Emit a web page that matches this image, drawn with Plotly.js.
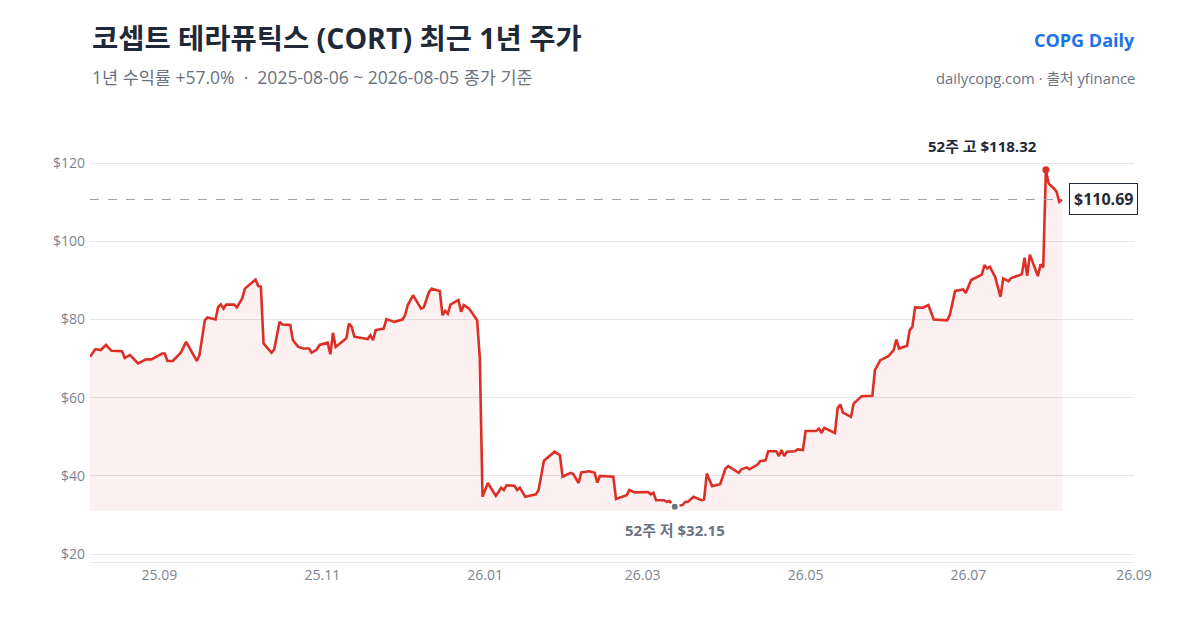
<!DOCTYPE html>
<html>
<head>
<meta charset="utf-8">
<script src="https://cdn.plot.ly/plotly-3.0.1.min.js"></script>
<style>
  html, body { margin: 0; padding: 0; background: #fff; }
  #price-chart { width: 1200px; height: 630px; }
</style>
</head>
<body>
<div id="price-chart"></div>
<script>
// CORT daily close
var dates = [
  '2025-08-06','2025-08-08','2025-08-10','2025-08-12','2025-08-14','2025-08-18','2025-08-19','2025-08-21',
  '2025-08-24','2025-08-27','2025-08-29','2025-09-02','2025-09-03','2025-09-04','2025-09-06','2025-09-09',
  '2025-09-11','2025-09-15','2025-09-16','2025-09-18','2025-09-19','2025-09-22','2025-09-23','2025-09-24',
  '2025-09-25','2025-09-26','2025-09-29','2025-09-30','2025-10-02','2025-10-03','2025-10-07','2025-10-08',
  '2025-10-09','2025-10-10','2025-10-13','2025-10-14','2025-10-16','2025-10-17','2025-10-20','2025-10-21',
  '2025-10-23','2025-10-25','2025-10-27','2025-10-28','2025-10-30','2025-10-31','2025-11-03','2025-11-04',
  '2025-11-05','2025-11-06','2025-11-10','2025-11-11','2025-11-12','2025-11-13','2025-11-18','2025-11-19',
  '2025-11-20','2025-11-21','2025-11-24','2025-11-25','2025-11-28','2025-12-01','2025-12-02','2025-12-03',
  '2025-12-05','2025-12-08','2025-12-09','2025-12-11','2025-12-12','2025-12-15','2025-12-16','2025-12-17',
  '2025-12-18','2025-12-19','2025-12-22','2025-12-23','2025-12-24','2025-12-26','2025-12-29','2025-12-30',
  '2025-12-31','2026-01-02','2026-01-05','2026-01-07','2026-01-08','2026-01-09','2026-01-12','2026-01-13',
  '2026-01-14','2026-01-16','2026-01-20','2026-01-21','2026-01-23','2026-01-27','2026-01-29','2026-01-30',
  '2026-02-02','2026-02-03','2026-02-05','2026-02-06','2026-02-09','2026-02-11','2026-02-12','2026-02-13',
  '2026-02-18','2026-02-19','2026-02-23','2026-02-24','2026-02-26','2026-03-03','2026-03-04','2026-03-05',
  '2026-03-06','2026-03-09','2026-03-10','2026-03-11','2026-03-12','2026-03-13','2026-03-16','2026-03-17',
  '2026-03-18','2026-03-20','2026-03-23','2026-03-24','2026-03-25','2026-03-27','2026-03-30','2026-04-01',
  '2026-04-02','2026-04-06','2026-04-07','2026-04-09','2026-04-10','2026-04-13','2026-04-14','2026-04-16',
  '2026-04-17','2026-04-20','2026-04-21','2026-04-22','2026-04-23','2026-04-24','2026-04-27','2026-04-28',
  '2026-04-30','2026-05-01','2026-05-05','2026-05-06','2026-05-07','2026-05-08','2026-05-12','2026-05-13',
  '2026-05-14','2026-05-15','2026-05-18','2026-05-19','2026-05-22','2026-05-26','2026-05-27','2026-05-29',
  '2026-06-01','2026-06-03','2026-06-04','2026-06-05','2026-06-08','2026-06-09','2026-06-10','2026-06-11',
  '2026-06-14','2026-06-16','2026-06-18','2026-06-23','2026-06-24','2026-06-26','2026-06-29','2026-06-30',
  '2026-07-02','2026-07-06','2026-07-07','2026-07-08','2026-07-09','2026-07-11','2026-07-13','2026-07-14',
  '2026-07-16','2026-07-17','2026-07-20','2026-07-21','2026-07-22','2026-07-23','2026-07-24','2026-07-27',
  '2026-07-28','2026-07-29','2026-07-30','2026-07-31','2026-08-02','2026-08-03','2026-08-04','2026-08-05'
];

var closes = [
  70.5, 72.4, 72.2, 73.5, 72.0, 71.9, 70.2, 70.9,
  68.8, 69.8, 69.8, 71.3, 71.3, 69.4, 69.4, 71.5,
  74.3, 69.4, 70.9, 79.8, 80.5, 80.0, 83.2, 83.9,
  82.8, 83.8, 83.8, 83.1, 85.4, 87.9, 90.2, 88.6,
  88.4, 73.9, 71.5, 72.4, 79.4, 78.7, 78.6, 74.7,
  73.0, 72.6, 72.6, 71.5, 72.4, 73.5, 74.1, 71.1,
  76.6, 73.0, 75.2, 79.0, 78.1, 75.6, 75.0, 76.0,
  74.7, 77.3, 77.7, 80.1, 79.4, 80.0, 81.1, 83.7,
  86.2, 82.8, 83.1, 87.1, 87.9, 87.3, 81.1, 82.2,
  81.5, 83.8, 85.0, 82.0, 83.7, 82.8, 79.8, 70.0,
  34.7, 38.2, 34.9, 37.0, 36.4, 37.6, 37.5, 36.4,
  37.0, 34.7, 35.3, 36.4, 43.9, 46.2, 45.3, 39.8,
  40.8, 40.5, 38.2, 40.9, 41.2, 40.8, 38.3, 40.0,
  39.8, 34.1, 35.1, 36.4, 35.8, 35.9, 35.3, 35.7,
  33.8, 33.8, 33.4, 33.6, 32.9, 32.15, 32.6, 33.4,
  33.4, 34.7, 33.8, 34.0, 40.6, 37.4, 37.9, 41.9,
  42.5, 40.8, 41.7, 42.2, 41.7, 42.9, 43.8, 44.0,
  46.3, 46.3, 45.1, 46.6, 45.1, 46.2, 46.3, 46.8,
  46.6, 51.5, 51.5, 52.1, 51.0, 52.3, 51.0, 57.3,
  58.3, 56.2, 55.1, 58.5, 60.4, 60.5, 67.1, 69.6,
  70.6, 72.2, 74.9, 72.6, 73.3, 77.3, 78.1, 83.1,
  83.0, 83.7, 80.0, 79.8, 81.1, 87.3, 87.7, 86.8,
  90.1, 91.5, 93.9, 93.1, 93.5, 90.9, 85.8, 90.5,
  89.8, 90.6, 91.3, 91.6, 95.8, 91.2, 96.6, 91.1,
  94.1, 93.3, 118.32, 114.8, 113.5, 112.7, 110.1, 110.69
];

var tickVals = ['2025-09-01','2025-11-01','2026-01-01','2026-03-01','2026-05-01','2026-07-01','2026-09-01'];
var tickText = ['25.09','25.11','26.01','26.03','26.05','26.07','26.09'];
var yTicks = [20, 40, 60, 80, 100, 120];

var FONT = '"Open Sans", "Noto Sans CJK KR", sans-serif';
var RED = '#dc2f26';

document.addEventListener("DOMContentLoaded", function(event) {
  var n = closes.length;
  var last = closes[n - 1];
  var hiIdx = closes.indexOf(Math.max.apply(null, closes));
  var loIdx = closes.indexOf(Math.min.apply(null, closes));
  var floorVal = closes[loIdx] * 0.965;
  var ret = (last / closes[0] - 1) * 100;

  var base = {
    x: dates,
    y: dates.map(function() { return floorVal; }),
    type: 'scatter', mode: 'lines',
    line: { width: 0, color: 'rgba(0,0,0,0)' },
    hoverinfo: 'skip', showlegend: false
  };
  var price = {
    x: dates, y: closes,
    type: 'scatter', mode: 'lines',
    fill: 'tonexty', fillcolor: 'rgba(220,47,38,0.07)',
    line: { color: RED, width: 2.6 },
    showlegend: false
  };
  var hiPt = {
    x: [dates[hiIdx]], y: [closes[hiIdx]],
    type: 'scatter', mode: 'markers',
    marker: { color: RED, size: 7 },
    showlegend: false
  };
  var loPt = {
    x: [dates[loIdx]], y: [closes[loIdx]],
    type: 'scatter', mode: 'markers',
    marker: { color: '#6b7280', size: 8, line: { color: '#ffffff', width: 2 } },
    showlegend: false
  };

  var layout = {
    width: 1200, height: 630,
    margin: { l: 90, r: 66, t: 140, b: 68 },
    paper_bgcolor: '#ffffff', plot_bgcolor: '#ffffff',
    font: { family: FONT, color: '#6b7280' },
    xaxis: {
      type: 'date',
      range: ['2025-08-06', '2026-09-01'],
      tickvals: tickVals, ticktext: tickText,
      showgrid: false, zeroline: false,
      showline: true, linecolor: '#e5e7eb', linewidth: 1,
      ticks: '', ticklen: 0,
      tickfont: { size: 14, color: '#7c8491' }
    },
    yaxis: {
      range: [18.0, 125.9],
      tickvals: yTicks,
      ticktext: yTicks.map(function(v) { return '$' + v; }),
      showgrid: true, gridcolor: '#e5e7eb', gridwidth: 1,
      zeroline: false, showline: false, ticks: '',
      ticklabelstandoff: 4,
      tickfont: { size: 14, color: '#7c8491' }
    },
    shapes: [{
      type: 'line', xref: 'x', yref: 'y',
      x0: dates[0], x1: dates[n - 1], y0: last, y1: last,
      line: { color: '#9ca3af', width: 1.2, dash: 'dash' }
    }],
    annotations: [
      {
        xref: 'paper', yref: 'paper', x: 0, y: 1.242, xanchor: 'left', yanchor: 'middle',
        showarrow: false,
        text: '<b>코셉트 테라퓨틱스 (CORT) 최근 1년 주가</b>',
        font: { family: FONT, size: 28.5, color: '#1f2937' }
      },
      {
        xref: 'paper', yref: 'paper', x: 0, y: 1.149, xanchor: 'left', yanchor: 'middle',
        showarrow: false,
        text: '1년 수익률 +' + ret.toFixed(1) + '%  ·  ' + dates[0] + ' ~ ' + dates[n - 1] + ' 종가 기준',
        font: { family: FONT, size: 17.5, color: '#6b7280' }
      },
      {
        xref: 'paper', yref: 'paper', x: 1, y: 1.237, xanchor: 'right', yanchor: 'middle',
        xshift: 3, showarrow: false,
        text: '<b>COPG Daily</b>',
        font: { family: FONT, size: 18, color: '#1a73e8' }
      },
      {
        xref: 'paper', yref: 'paper', x: 1, y: 1.147, xanchor: 'right', yanchor: 'middle',
        xshift: 3, showarrow: false,
        text: 'dailycopg.com · 출처 yfinance',
        font: { family: FONT, size: 14.8, color: '#6b7280' }
      },
      {
        x: dates[hiIdx], y: closes[hiIdx], xanchor: 'right', yanchor: 'middle',
        xshift: -7, yshift: 24, showarrow: false,
        text: '<b>52주 고 $' + closes[hiIdx].toFixed(2) + '</b>',
        font: { family: FONT, size: 15, color: '#1f2937' }
      },
      {
        x: dates[loIdx], y: closes[loIdx], xanchor: 'center', yanchor: 'middle',
        yshift: -23, showarrow: false,
        text: '<b>52주 저 $' + closes[loIdx].toFixed(2) + '</b>',
        font: { family: FONT, size: 15, color: '#6b7280' }
      },
      {
        x: dates[n - 1], y: last, xanchor: 'left', yanchor: 'middle',
        xshift: 7, showarrow: false,
        text: '<b>$' + last.toFixed(2) + '</b>',
        font: { family: FONT, size: 16, color: '#1f2937' },
        bgcolor: '#ffffff', bordercolor: '#1f2937', borderwidth: 1, borderpad: 4
      }
    ]
  };

  Plotly.newPlot('price-chart', [base, price, hiPt, loPt], layout, { staticPlot: true, displayModeBar: false });
});
</script>
</body>
</html>
